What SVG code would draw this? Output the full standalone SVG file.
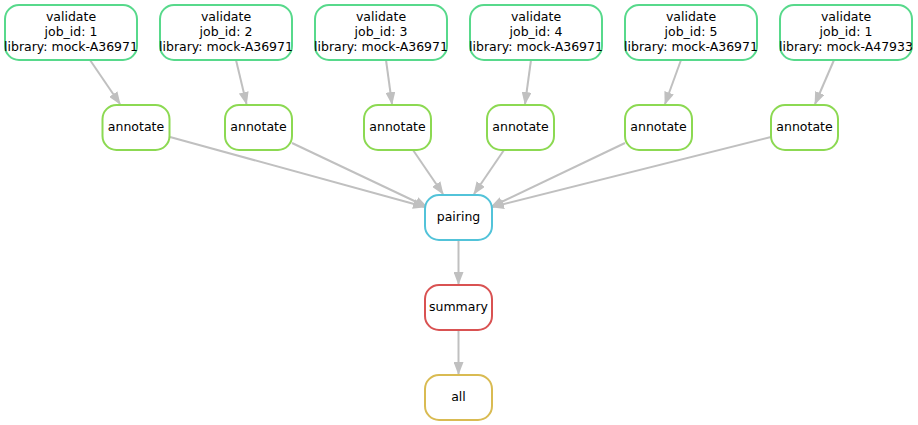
<svg xmlns="http://www.w3.org/2000/svg" width="918" height="425" viewBox="0 0 918 425">
<style>
.n{fill:#fff;stroke-width:2}
.v{stroke:#57d98b}
.a{stroke:#8cd952}
.p{stroke:#52c3d9}
.s{stroke:#d95252}
.l{stroke:#d9bb52}
text{font-family:"DejaVu Sans",sans-serif;font-size:12.5px;text-anchor:middle;fill:#000}
.e path{fill:none;stroke:#c0c0c0;stroke-width:2;marker-end:url(#ah)}
</style>
<defs>
<marker id="ah" viewBox="0 0 13 10" refX="12" refY="5" markerWidth="13" markerHeight="10" markerUnits="userSpaceOnUse" orient="auto">
<path d="M0,0 L13,5 L0,10 Z" fill="#c0c0c0"/>
</marker>
</defs>
<rect width="918" height="425" fill="#fff"/>
<g class="e">
<path d="M90,60 L120,104"/>
<path d="M236,60 L246.5,104"/>
<path d="M386,60 L392,104"/>
<path d="M531,60 L525,104"/>
<path d="M681,60 L665,104"/>
<path d="M834,60 L815,104"/>
<path d="M170,137 L425,207"/>
<path d="M292,143 L427,207"/>
<path d="M413,150 L443,194"/>
<path d="M504,150 L474,194"/>
<path d="M625,143 L491,207"/>
<path d="M771,137 L492,207"/>
<path d="M458.5,240 L458.5,284"/>
<path d="M458.5,330 L458.5,374"/>
</g>
<g id="validate1"><rect class="n v" x="5" y="5" width="132" height="55" rx="14"/><text x="71" y="20.5">validate</text><text x="71" y="35.5">job_id: 1</text><text x="71" y="50.5">library: mock-A36971</text></g>
<g id="validate2"><rect class="n v" x="160" y="5" width="132" height="55" rx="14"/><text x="226" y="20.5">validate</text><text x="226" y="35.5">job_id: 2</text><text x="226" y="50.5">library: mock-A36971</text></g>
<g id="validate3"><rect class="n v" x="315" y="5" width="132" height="55" rx="14"/><text x="381" y="20.5">validate</text><text x="381" y="35.5">job_id: 3</text><text x="381" y="50.5">library: mock-A36971</text></g>
<g id="validate4"><rect class="n v" x="470" y="5" width="132" height="55" rx="14"/><text x="536" y="20.5">validate</text><text x="536" y="35.5">job_id: 4</text><text x="536" y="50.5">library: mock-A36971</text></g>
<g id="validate5"><rect class="n v" x="625" y="5" width="132" height="55" rx="14"/><text x="691" y="20.5">validate</text><text x="691" y="35.5">job_id: 5</text><text x="691" y="50.5">library: mock-A36971</text></g>
<g id="validate6"><rect class="n v" x="780" y="5" width="132" height="55" rx="14"/><text x="846" y="20.5">validate</text><text x="846" y="35.5">job_id: 1</text><text x="846" y="50.5">library: mock-A47933</text></g>
<g id="annotate1"><rect class="n a" x="102.5" y="105" width="67" height="45" rx="14"/><text x="136" y="131">annotate</text></g>
<g id="annotate2"><rect class="n a" x="225" y="105" width="67" height="45" rx="14"/><text x="258.5" y="131">annotate</text></g>
<g id="annotate3"><rect class="n a" x="364" y="105" width="67" height="45" rx="14"/><text x="397.5" y="131">annotate</text></g>
<g id="annotate4"><rect class="n a" x="487" y="105" width="67" height="45" rx="14"/><text x="520.5" y="131">annotate</text></g>
<g id="annotate5"><rect class="n a" x="625" y="105" width="67" height="45" rx="14"/><text x="658.5" y="131">annotate</text></g>
<g id="annotate6"><rect class="n a" x="771" y="105" width="67" height="45" rx="14"/><text x="804.5" y="131">annotate</text></g>
<g id="pairing"><rect class="n p" x="425" y="195" width="67" height="45" rx="14"/><text x="458.5" y="221">pairing</text></g>
<g id="summary"><rect class="n s" x="425" y="285" width="67" height="45" rx="14"/><text x="458.5" y="311">summary</text></g>
<g id="all"><rect class="n l" x="425" y="375" width="67" height="45" rx="14"/><text x="458.5" y="401">all</text></g>
</svg>
